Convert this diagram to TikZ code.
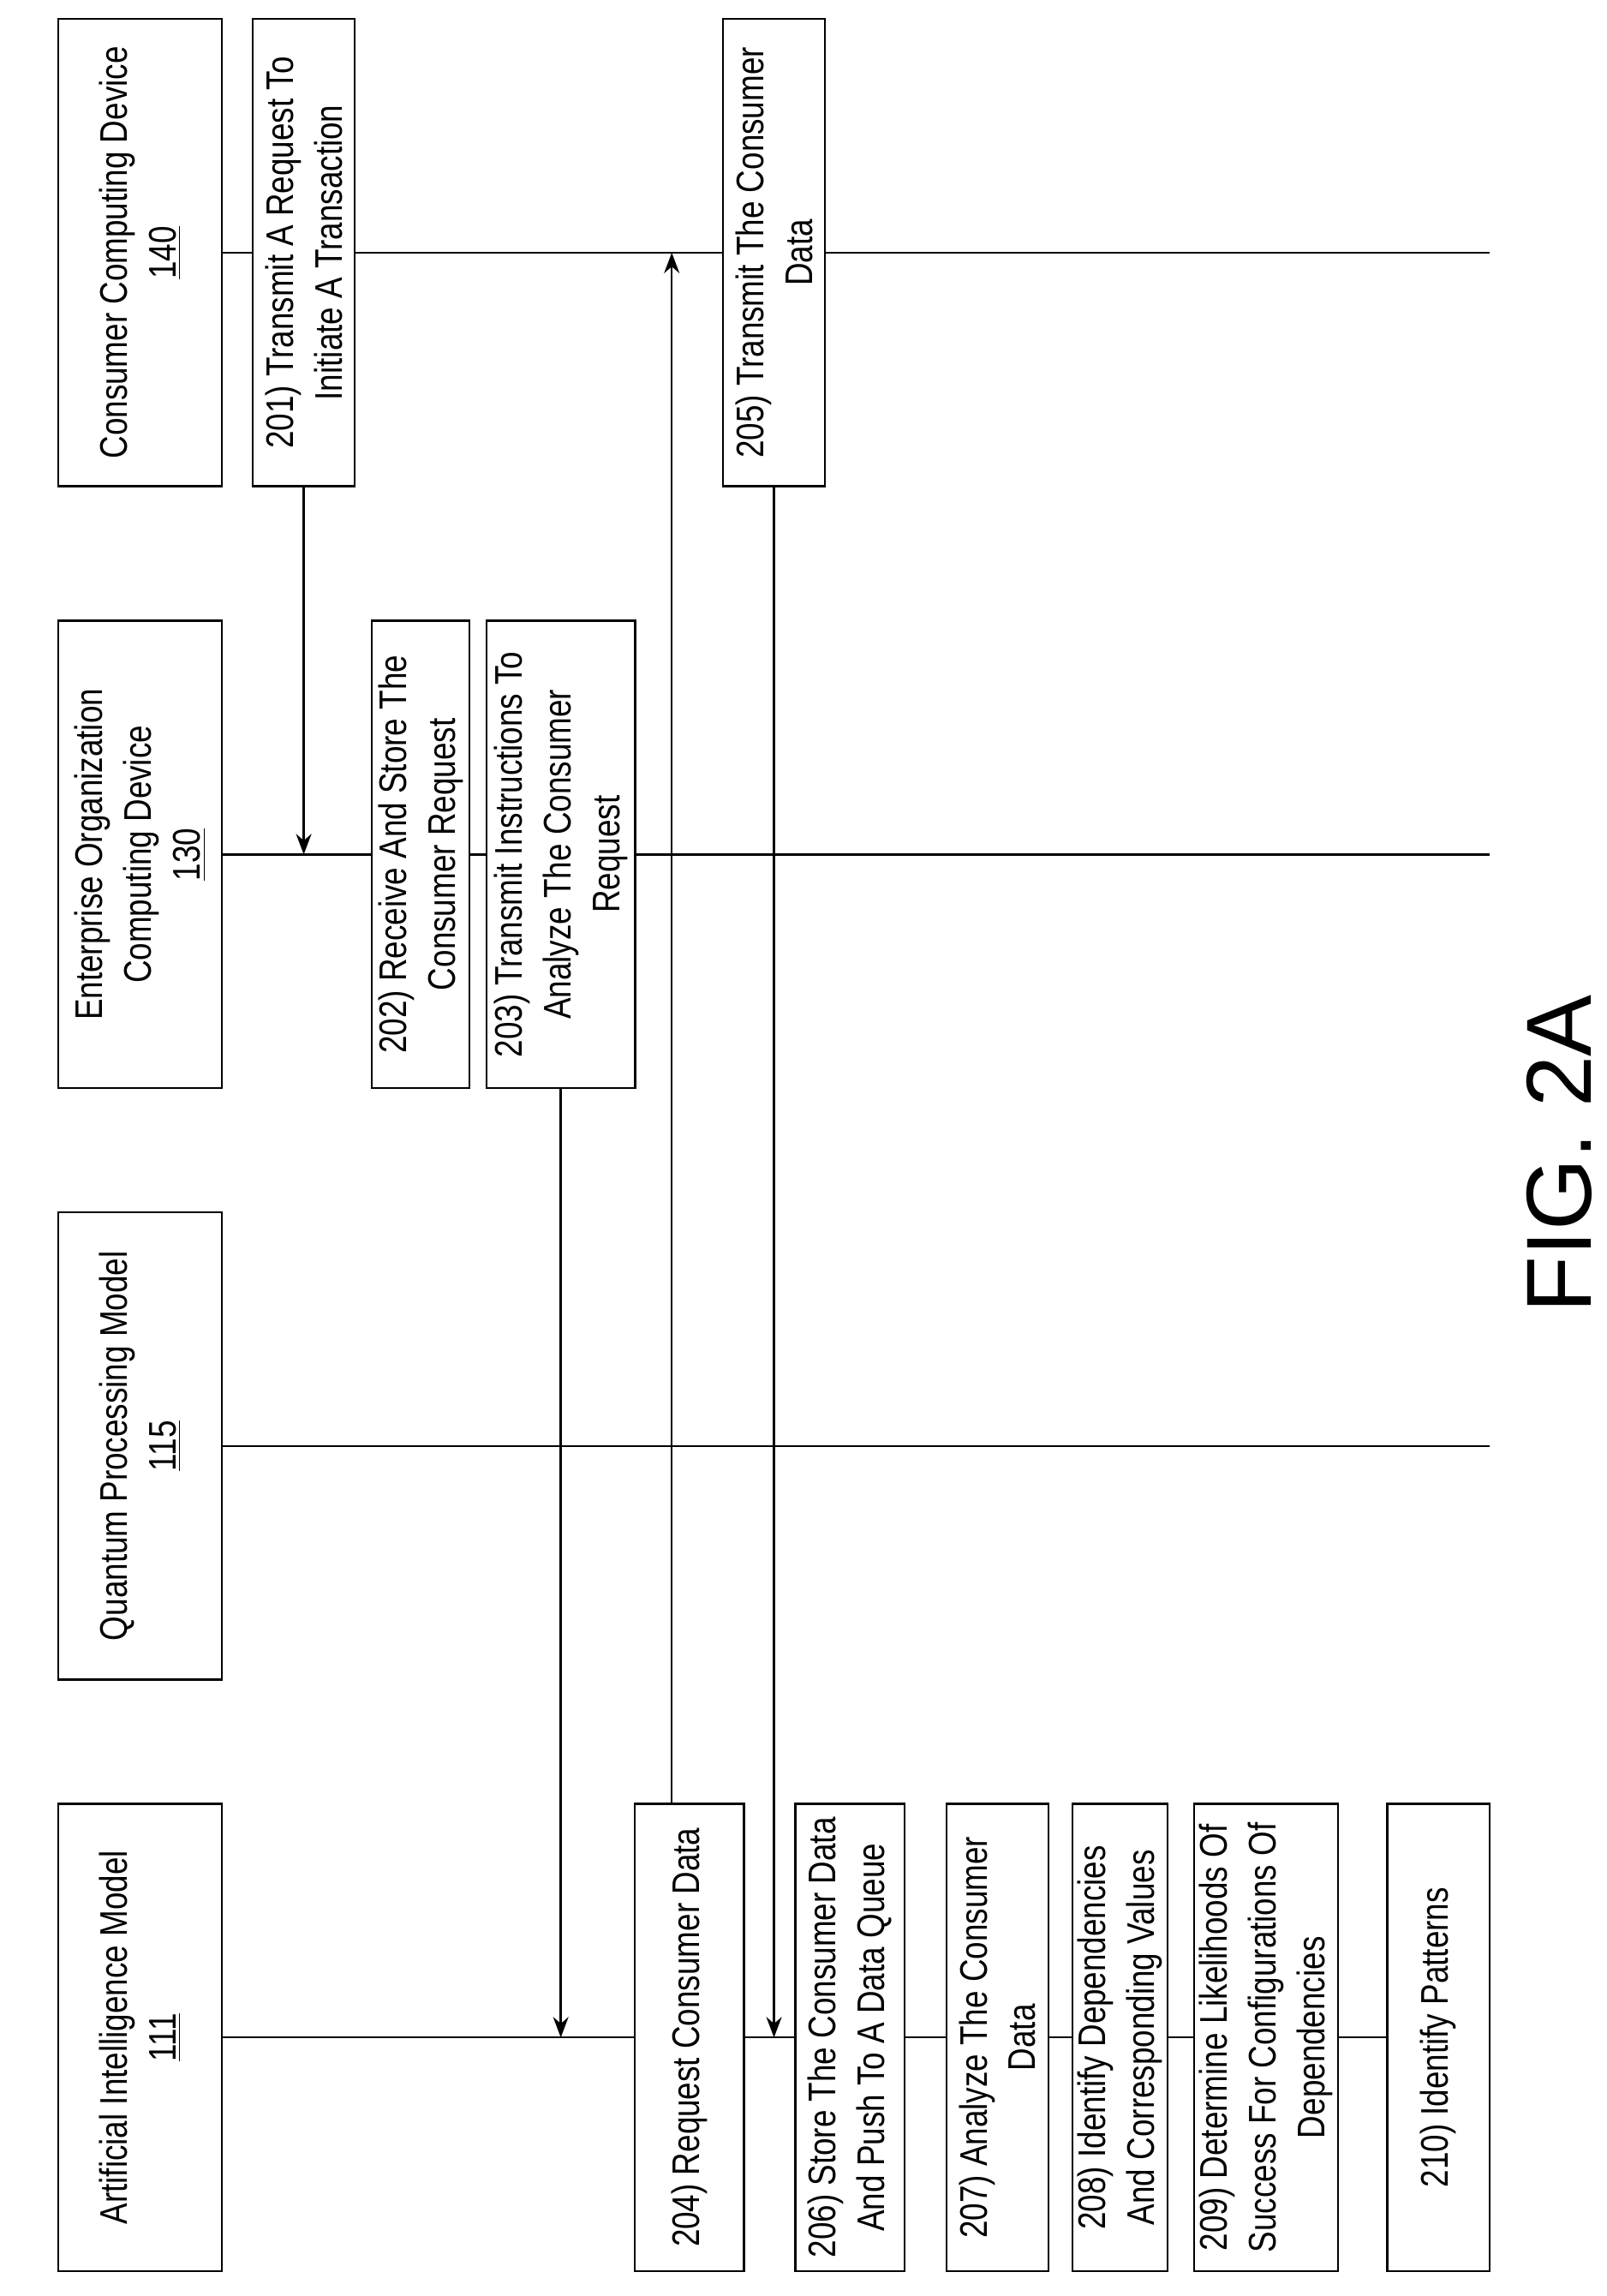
\documentclass[tikz,border=0pt]{standalone}
\usepackage{fontspec}
\setmainfont{Liberation Sans}[FakeStretch=0.82]
\newfontfamily\figfont{Liberation Sans}
\usetikzlibrary{arrows.meta, calc}
\tikzset{
  >={Stealth[length=8pt,width=6pt]},
  head/.style={draw, thick, fill=white, rotate=90, align=center, minimum width=6.4cm, minimum height=2.24cm, inner sep=2pt, font=\fontsize{15}{19}\selectfont},
  stepbox/.style={draw, thick, fill=white, rotate=90, align=center, minimum width=6.4cm, inner sep=2pt, font=\fontsize{15}{19}\selectfont},
  life/.style={thick},
  msg/.style={->, thick}
}
\begin{document}
\begin{tikzpicture}[x=0.02cm, y=-0.02cm]
    \useasboundingbox (0,0) rectangle (1100,1572);

    % Lifelines
    \coordinate (ai end) at (1020,1395);
    \coordinate (qpm end) at (1020,990);
    \coordinate (eocd end) at (1020,585);
    \coordinate (ccd end) at (1020,173);
    \draw[life] (96,1395) -- (ai end);
    \draw[life] (96,990) -- (qpm end);
    \draw[life] (96,585) -- (eocd end);
    \draw[life] (96,173) -- (ccd end);

    % Header boxes
    \node[head] (ai) at (96,1395) {Artificial Intelligence Model\\\underline{111}};
    \node[head] (qpm) at (96,990) {Quantum Processing Model\\\underline{115}};
    \node[head] (eocd) at (96,585) {Enterprise Organization\\Computing Device\\\underline{130}};
    \node[head] (ccd) at (96,173) {Consumer Computing Device\\\underline{140}};

    % Steps
    \node[stepbox, minimum height=1.4cm] (n201) at (208,173) {201) Transmit A Request To\\Initiate A Transaction};
    \node[stepbox, minimum height=1.34cm] (n202) at (288,585) {202) Receive And Store The\\Consumer Request};
    \node[stepbox, minimum height=2.04cm] (n203) at (384,585) {203) Transmit Instructions To\\Analyze The Consumer\\Request};
    \node[stepbox, minimum height=1.5cm] (n204) at (472,1395) {204) Request Consumer Data};
    \node[stepbox, minimum height=1.4cm] (n205) at (530,173) {205) Transmit The Consumer\\Data};
    \node[stepbox, minimum height=1.5cm] (n206) at (582,1395) {206) Store The Consumer Data\\And Push To A Data Queue};
    \node[stepbox, minimum height=1.4cm] (n207) at (683,1395) {207) Analyze The Consumer\\Data};
    \node[stepbox, minimum height=1.3cm] (n208) at (767,1395) {208) Identify Dependencies\\And Corresponding Values};
    \node[stepbox, minimum height=1.9cm] (n209) at (867,1395) {209) Determine Likelihoods Of\\Success For Configurations Of\\Dependencies};
    \node[stepbox, minimum height=1.4cm] (n210) at (985,1395) {210) Identify Patterns};

    % Messages
    \draw[msg] (n201.west) -- (n201.west |- eocd end);
    \draw[msg] (n203.west) -- (n203.west |- ai end);
    \coordinate (c204) at ($(n204.east)+(-12,0)$);
    \draw[msg] (c204) -- (c204 |- ccd end);
    \draw[msg] (n205.west) -- (n205.west |- ai end);

    \node[rotate=90, font=\figfont\fontsize{36}{40}\selectfont] (fig) at (1068,790) {FIG. 2A};
\end{tikzpicture}
\end{document}
